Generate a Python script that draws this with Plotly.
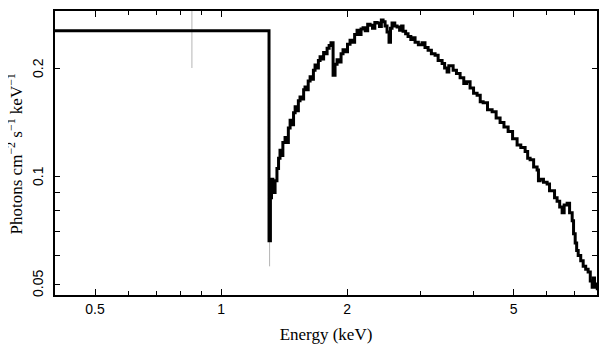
import math
import plotly.graph_objects as go

# Spectrum (step histogram), energy in keV and flux in photons cm^-2 s^-1 keV^-1
energy = [0.400, 1.302, 1.312, 1.320, 1.330, 1.346, 1.360, 1.372, 1.383, 1.395,
          1.405, 1.422, 1.435, 1.448, 1.462, 1.475, 1.490, 1.503, 1.515, 1.530,
          1.544, 1.560, 1.575, 1.587, 1.600, 1.615, 1.632, 1.648, 1.662, 1.677,
          1.692, 1.708, 1.724, 1.740, 1.758, 1.775, 1.792, 1.812, 1.831, 1.852,
          1.872, 1.893, 1.915, 1.935, 1.956, 1.980, 2.005, 2.033, 2.060, 2.085,
          2.113, 2.140, 2.160, 2.184, 2.210, 2.240, 2.270, 2.300, 2.330, 2.359,
          2.390, 2.415, 2.438, 2.465, 2.492, 2.519, 2.540, 2.561, 2.600, 2.633,
          2.670, 2.700, 2.721, 2.760, 2.797, 2.840, 2.870, 2.907, 2.960, 3.021,
          3.070, 3.123, 3.180, 3.245, 3.300, 3.373, 3.420, 3.467, 3.500, 3.584,
          3.650, 3.724, 3.800, 3.860, 3.934, 4.010, 4.089, 4.160, 4.227, 4.330,
          4.441, 4.540, 4.640, 4.740, 4.850, 4.970, 5.095, 5.200, 5.325, 5.400,
          5.473, 5.580, 5.688, 5.730, 5.783, 5.890, 6.010, 6.090, 6.177, 6.260,
          6.349, 6.440, 6.527, 6.600, 6.709, 6.800, 6.898, 6.950, 7.013, 7.070,
          7.130, 7.230, 7.328, 7.430, 7.530, 7.620, 7.700, 7.750, 7.800, 7.870,
          7.920]
flux = [0.254, 0.066, 0.087, 0.098, 0.090, 0.097, 0.105, 0.112, 0.118, 0.114,
        0.124, 0.128, 0.124, 0.136, 0.143, 0.139, 0.150, 0.156, 0.152, 0.162,
        0.166, 0.164, 0.174, 0.177, 0.174, 0.184, 0.189, 0.186, 0.197, 0.204,
        0.200, 0.210, 0.215, 0.212, 0.221, 0.219, 0.227, 0.231, 0.235, 0.191,
        0.205, 0.211, 0.208, 0.219, 0.225, 0.222, 0.233, 0.239, 0.236, 0.248,
        0.255, 0.248, 0.257, 0.259, 0.254, 0.265, 0.263, 0.258, 0.268, 0.267,
        0.261, 0.272, 0.269, 0.262, 0.252, 0.236, 0.258, 0.267, 0.262, 0.260,
        0.255, 0.262, 0.253, 0.249, 0.245, 0.240, 0.243, 0.236, 0.232, 0.235,
        0.228, 0.224, 0.219, 0.217, 0.210, 0.206, 0.200, 0.195, 0.203, 0.197,
        0.193, 0.188, 0.181, 0.183, 0.176, 0.170, 0.168, 0.161, 0.160, 0.153,
        0.151, 0.145, 0.141, 0.137, 0.133, 0.127, 0.122, 0.120, 0.117, 0.112,
        0.111, 0.106, 0.104, 0.097, 0.098, 0.096, 0.095, 0.091, 0.091, 0.087,
        0.085, 0.082, 0.079, 0.083, 0.084, 0.079, 0.075, 0.069, 0.065, 0.062,
        0.060, 0.058, 0.056, 0.055, 0.054, 0.051, 0.049, 0.052, 0.050, 0.049,
        0.048]

# A few visible grey error bars
err_x = [0.852, 1.306]
err_y = [0.254, 0.066]
err_plus = [0.06, 0.0]
err_minus = [0.054, 0.010]

x_ticks = [0.5, 1, 2, 5]
x_labels = ["0.5", "1", "2", "5"]
x_minor = [0.6, 0.7, 0.8, 0.9, 3, 4, 6, 7]
y_ticks = [0.05, 0.1, 0.2]
y_labels = ["0.05", "0.1", "0.2"]
y_minor = [0.06, 0.07, 0.08, 0.09]

fig = go.Figure()
fig.add_trace(go.Scatter(
    x=err_x, y=err_y, mode="markers",
    marker=dict(size=1, color="rgba(0,0,0,0)"),
    error_y=dict(type="data", symmetric=False, array=err_plus, arrayminus=err_minus,
                 color="#b5b5b5", thickness=1, width=0),
    showlegend=False, hoverinfo="skip"))
fig.add_trace(go.Scatter(
    x=energy, y=flux, mode="lines", line=dict(color="black", width=3, shape="hv"),
    showlegend=False))

tick_font = dict(family="Liberation Sans, Arial, sans-serif", size=14, color="black")
title_font = dict(family="Liberation Serif, Times New Roman, serif", size=17, color="black")

fig.update_xaxes(
    type="log", range=[-0.3966, 0.898], automargin=False,
    tickmode="array", tickvals=x_ticks, ticktext=x_labels,
    ticks="inside", ticklen=6, tickwidth=1.3, tickcolor="black",
    minor=dict(tickmode="array", tickvals=x_minor, ticks="inside", ticklen=4,
               tickwidth=1.3, tickcolor="black", showgrid=False),
    showline=True, linecolor="black", linewidth=2, mirror="allticks",
    showgrid=False, zeroline=False, tickfont=tick_font,
    title=dict(text="Energy (keV)", font=title_font, standoff=12))
fig.update_yaxes(
    type="log", range=[-1.3317, -0.5401], automargin=False,
    tickmode="array", tickvals=y_ticks, ticktext=["", "", ""],
    ticks="inside", ticklen=5, tickwidth=1.3, tickcolor="black",
    minor=dict(tickmode="array", tickvals=y_minor, ticks="inside", ticklen=5,
               tickwidth=1.3, tickcolor="black", showgrid=False),
    showline=True, linecolor="black", linewidth=2, mirror="allticks",
    showgrid=False, zeroline=False, tickfont=tick_font)

# Rotated y tick labels (log axis: annotation position in log10 units) and y title
for v, t in zip(y_ticks, y_labels):
    fig.add_annotation(x=0, xref="paper", xanchor="right", xshift=-7,
                       y=math.log10(v), yref="y", yanchor="middle",
                       text=t, textangle=-90, showarrow=False, font=tick_font)
fig.add_annotation(x=0, xref="paper", xshift=-27, y=0.495, yref="paper",
                   yanchor="middle", xanchor="right",
                   text="Photons cm<sup>−2</sup> s<sup>−1</sup> keV<sup>−1</sup>",
                   textangle=-90, showarrow=False, font=title_font)

# The page body has an 8px margin, so the margins compensate for it
fig.update_layout(
    width=609, height=357,
    margin=dict(l=47, r=20, t=3, b=70, autoexpand=False),
    paper_bgcolor="white", plot_bgcolor="white")

fig.write_html("out.html")
